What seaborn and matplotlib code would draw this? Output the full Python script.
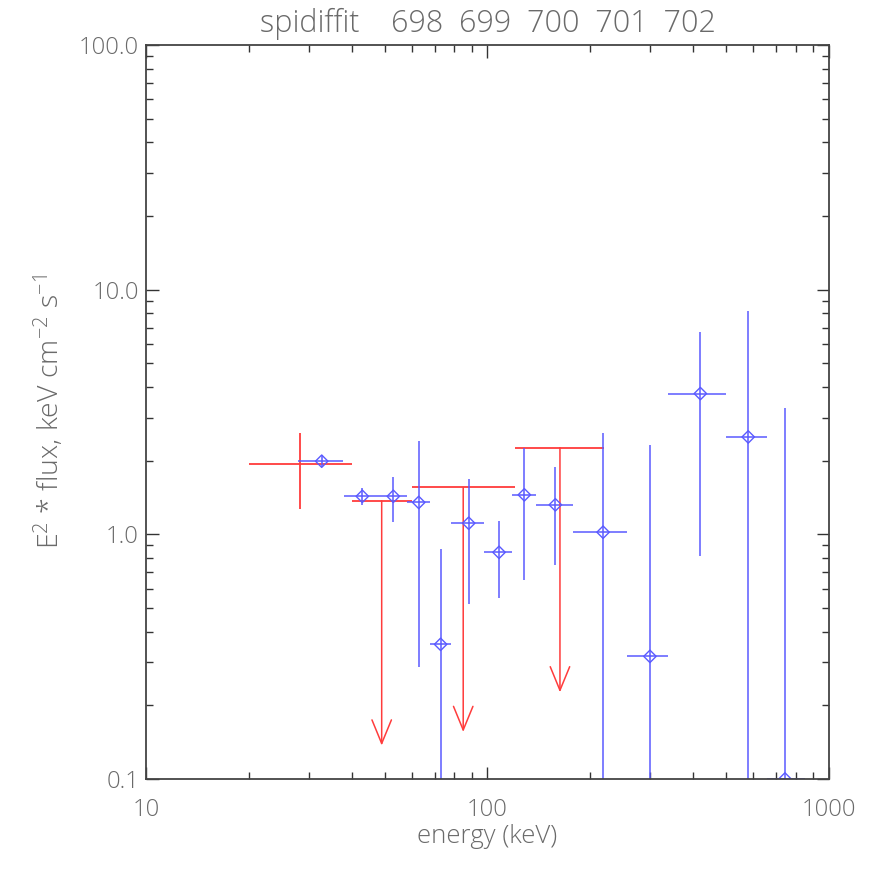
import numpy as np
import pandas as pd
import seaborn as sns
import matplotlib.pyplot as plt

# blue points (spectral bins)
blue_e = [32.7, 43.0, 53.0, 62.9, 72.9, 88.1, 108.1, 128.2, 158.0, 218.0, 299.0, 420.0, 580.0, 743.0]
blue_elo = [27.9, 38.0, 48.4, 58.0, 67.8, 78.3, 97.8, 118.1, 138.3, 177.6, 257.0, 338.0, 500.0, 659.0]
blue_ehi = [37.8, 48.4, 58.0, 67.8, 78.1, 97.8, 118.1, 138.3, 177.6, 257.0, 338.0, 500.0, 659.0, 850.0]
blue_flux = [1.99, 1.43, 1.43, 1.35, 0.355, 1.11, 0.844, 1.45, 1.32, 1.02, 0.317, 3.76, 2.50, 0.10]
blue_fhi = [2.11, 1.55, 1.72, 2.40, 0.868, 1.69, 1.137, 2.25, 1.88, 2.59, 2.32, 6.69, 8.18, 3.29]
blue_flo = [1.88, 1.32, 1.12, 0.287, 0.01, 0.519, 0.547, 0.650, 0.747, 0.01, 0.01, 0.815, 0.01, 0.01]

# red points (first is a detection, the rest are upper limits)
red_e = [28.3, 49.0, 84.9, 163.0]
red_elo = [20.0, 40.0, 60.0, 120.0]
red_ehi = [40.0, 60.0, 120.0, 220.0]
red_flux = [1.93, 1.37, 1.556, 2.26]
red_fhi = [2.59, 1.37, 1.556, 2.26]
red_flo = [1.265, 1.37, 1.556, 2.26]
red_ul = [False, True, True, True]

y_ticks = [0.1, 1.0, 10.0, 100.0]
y_ticklabels = ["0.1", "1.0", "10.0", "100.0"]
x_ticks = [10, 100, 1000]
x_ticklabels = ["10", "100", "1000"]

blue_c = "#5a5aff"
red_c = "#ff3c3c"
text_c = "#6a6a6a"

sns.set_style("ticks")
plt.rcParams["font.family"] = ["Open Sans", "DejaVu Sans"]
plt.rcParams["font.weight"] = "light"
plt.rcParams["axes.titleweight"] = "light"
plt.rcParams["axes.labelweight"] = "light"
plt.rcParams["mathtext.default"] = "regular"

df_b = pd.DataFrame({"e": blue_e, "elo": blue_elo, "ehi": blue_ehi,
                     "f": blue_flux, "flo": blue_flo, "fhi": blue_fhi})
df_r = pd.DataFrame({"e": red_e, "elo": red_elo, "ehi": red_ehi,
                     "f": red_flux, "flo": red_flo, "fhi": red_fhi, "ul": red_ul})

fig = plt.figure(figsize=(8.72, 8.72), dpi=100)
ax = fig.add_axes([0.1674, 0.1067, 0.7833, 0.8417])
ax.set_xscale("log")
ax.set_yscale("log")

# red detection
det = df_r[~df_r["ul"]]
ax.errorbar(det["e"], det["f"],
            xerr=[det["e"] - det["elo"], det["ehi"] - det["e"]],
            yerr=[det["f"] - det["flo"], det["fhi"] - det["f"]],
            fmt="none", ecolor=red_c, elinewidth=1.3, capsize=0)

# red upper limits
ul = df_r[df_r["ul"]]
ax.errorbar(ul["e"], ul["f"],
            xerr=[ul["e"] - ul["elo"], ul["ehi"] - ul["e"]],
            fmt="none", ecolor=red_c, elinewidth=1.3, capsize=0)
for _, r in ul.iterrows():
    ax.annotate("", xy=(r["e"], r["f"] / 10.0), xytext=(r["e"], r["f"]),
                arrowprops=dict(arrowstyle="->,head_length=1.7,head_width=0.7",
                                color=red_c, lw=1.1, shrinkA=0, shrinkB=0,
                                mutation_scale=10))

# blue points
ax.errorbar(df_b["e"], df_b["f"],
            xerr=[df_b["e"] - df_b["elo"], df_b["ehi"] - df_b["e"]],
            yerr=[df_b["f"] - df_b["flo"], df_b["fhi"] - df_b["f"]],
            fmt="none", ecolor=blue_c, elinewidth=1.1, capsize=0)
sns.scatterplot(data=df_b, x="e", y="f", marker="D", s=40,
                facecolor="none", edgecolor=blue_c, linewidth=1.0, ax=ax, zorder=5)

ax.set_xlim(10, 1000)
ax.set_ylim(0.1, 100)
ax.set_xticks(x_ticks)
ax.set_xticklabels(x_ticklabels)
ax.set_yticks(y_ticks)
ax.set_yticklabels(y_ticklabels)

ax.tick_params(which="both", direction="in", top=True, right=True, color="#333333",
               labelcolor=text_c, labelsize=17)
ax.tick_params(axis="y", which="major", length=9, width=1, pad=5)
ax.tick_params(axis="x", which="major", length=9, width=1, pad=14)
ax.tick_params(which="minor", length=5, width=1)
for s in ax.spines.values():
    s.set_color("#444444")
    s.set_linewidth(1.3)
    s.set_zorder(10)

ax.set_xlabel("energy (keV)", color=text_c, fontsize=18.5, labelpad=1)
ax.set_ylabel("E$^2$ * flux, keV cm$^{-2}$ s$^{-1}$", color=text_c, fontsize=20.5, labelpad=9)
ax.set_title("spidiffit    698  699  700  701  702",
             color=text_c, fontsize=22, pad=9)

plt.savefig("out.png", dpi=100)
plt.close()
